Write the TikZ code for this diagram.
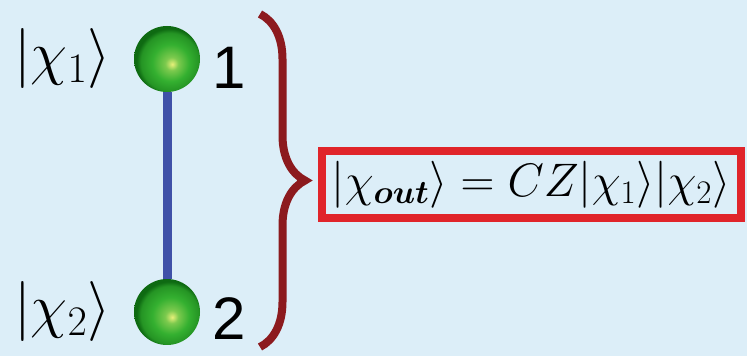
\RequirePackage{fix-cm}
\documentclass[tikz,border=0pt]{standalone}
\usepackage{amsmath}
\usepackage{fontspec}
\newfontfamily\labelsans{Liberation Sans}
\usetikzlibrary{positioning,decorations.pathreplacing}
\definecolor{paneblue}{HTML}{DCEEF8}
\definecolor{bondblue}{HTML}{3F51A8}
\definecolor{bracered}{HTML}{8C1A1E}
\definecolor{boxred}{HTML}{E0242A}
\definecolor{balldark}{HTML}{0E6A12}
\definecolor{ballmid}{HTML}{34B030}
\definecolor{ballglow}{HTML}{E8F07A}
\pgfdeclareradialshading{qubitball}{\pgfpoint{4bp}{-4bp}}{%
  color(0bp)=(ballglow); color(5bp)=(ballglow!40!ballmid);
  color(14bp)=(ballmid); color(22bp)=(ballmid!60!balldark);
  color(25bp)=(balldark); color(50bp)=(balldark)}

\begin{document}
\begin{tikzpicture}[
  x=1pt, y=1pt,
  qubit/.style={circle, inner sep=0pt, minimum size=66pt, shading=qubitball},
  ket/.style={font=\fontsize{60}{70}\selectfont, inner sep=3pt},
  num/.style={font=\fontsize{60}{70}\selectfont\labelsans, inner sep=3pt},
  bond/.style={bondblue, line width=9pt},
  brc/.style={bracered, line width=8pt,
    decorate, decoration={brace, amplitude=45pt}},
  outbox/.style={draw=boxred, line width=8pt, inner sep=0pt,
    minimum width=419pt, minimum height=67pt,
    font=\fontsize{47}{56}\selectfont}
]
  \fill[paneblue] (0,0) rectangle (747,356);
  \useasboundingbox (0,0) rectangle (747,356);

  %% ---- the two qubits ---------------------------------------------
  \node[qubit] (q1) at (167,297) {};
  \node[qubit] (q2) at (167,44)  {};
  \draw[bond] (q1) -- (q2);

  \node[ket, left=20pt of q1] (ket1) {$|\chi_1\rangle$};
  \node[ket, left=20pt of q2] (ket2) {$|\chi_2\rangle$};
  \node[num, right=9pt of q1, yshift=-9pt] (num1) {1};
  \node[num, right=9pt of q2, yshift=-7pt] (num2) {2};

  %% ---- brace and output state -------------------------------------
  \coordinate (btop) at (260,342);
  \coordinate (bbot) at (260,9);
  \draw[brc] (btop) -- (bbot);

  \node[outbox] (out) at (531,171)
    {$|\chi_{\boldsymbol{out}}\rangle = CZ|\chi_1\rangle|\chi_2\rangle$};
\end{tikzpicture}
\end{document}
